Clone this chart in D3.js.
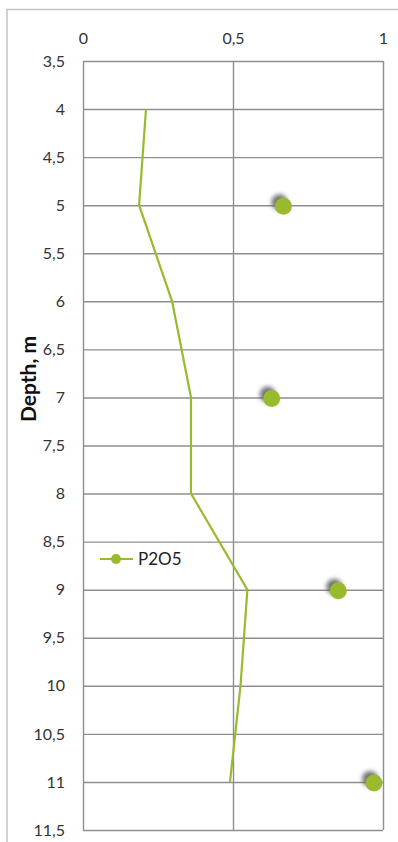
<!DOCTYPE html>
<html>
<head>
<meta charset="utf-8">
<script src="https://cdn.jsdelivr.net/npm/d3@7/dist/d3.min.js"></script>
<style>
  html, body { margin: 0; padding: 0; background: #fff; }
  svg { display: block; font-family: Lato, "Open Sans", sans-serif; }
</style>
</head>
<body>
<svg id="chart" width="398" height="842"></svg>
<script>
// P2O5 profile by depth
const depths = [4, 5, 6, 7, 8, 9, 10, 11];
const p2o5 = [0.21, 0.187, 0.297, 0.36, 0.36, 0.548, 0.525, 0.49];

// Separate sample points (no line)
const sampleDepths = [5, 7, 9, 11];
const sampleValues = [0.668, 0.629, 0.851, 0.97];

const xTicks = [0, 0.5, 1];
const yTicks = [3.5, 4, 4.5, 5, 5.5, 6, 6.5, 7, 7.5, 8, 8.5, 9, 9.5, 10, 10.5, 11, 11.5];
const seriesName = "P2O5";
const yTitle = "Depth, m";

const fmt = v => String(v).replace(".", ",");

const svg = d3.select("#chart");
const plotL = 83, plotR = 383, plotT = 61, plotB = 830;
const green = "#9aba2d";
const gridColor = "#8f8f8f";
const tickFont = 16;

const x = d3.scaleLinear().domain([0, 1]).range([plotL, plotR]);
const y = d3.scaleLinear().domain([3.5, 11.5]).range([plotT, plotB]);

// outer chart frame (top and left edges)
svg.append("path")
  .attr("d", `M7,842 V9.5 H398`)
  .attr("fill", "none").attr("stroke", "#c4c4c4").attr("stroke-width", 1.5);

const defs = svg.append("defs");
defs.append("filter").attr("id", "soft").attr("x", "-50%").attr("y", "-50%")
  .attr("width", "200%").attr("height", "200%")
  .append("feGaussianBlur").attr("stdDeviation", 2);

// gridlines
const g = svg.append("g");
g.append("g").attr("transform", `translate(${plotL},0)`)
  .call(d3.axisLeft(y).tickValues(yTicks).tickSize(-(plotR - plotL)).tickFormat(""))
  .call(a => a.select(".domain").remove())
  .call(a => a.selectAll("line").attr("stroke", gridColor).attr("stroke-width", 1.4));
g.append("g").attr("transform", `translate(0,${plotT})`)
  .call(d3.axisTop(x).tickValues(xTicks).tickSize(-(plotB - plotT)).tickFormat(""))
  .call(a => a.select(".domain").remove())
  .call(a => a.selectAll("line").attr("stroke", gridColor).attr("stroke-width", 1.4));

// y tick labels
svg.append("g").attr("transform", `translate(${plotL},0)`)
  .call(d3.axisLeft(y).tickValues(yTicks).tickSize(0).tickPadding(18).tickFormat(fmt))
  .call(a => a.select(".domain").remove())
  .call(a => a.selectAll("text").attr("font-size", tickFont).attr("fill", "#333")
    .attr("font-family", "Lato, 'Open Sans', sans-serif"));

// x tick labels on top
svg.append("g").attr("transform", `translate(0,${plotT})`)
  .call(d3.axisTop(x).tickValues(xTicks).tickSize(0).tickPadding(17).tickFormat(fmt))
  .call(a => a.select(".domain").remove())
  .call(a => a.selectAll("text").attr("font-size", tickFont).attr("fill", "#333")
    .attr("font-family", "Lato, 'Open Sans', sans-serif"));

// axis title
svg.append("text")
  .attr("transform", `translate(36,379) rotate(-90)`)
  .attr("text-anchor", "middle")
  .attr("font-size", 21).attr("font-weight", "bold").attr("fill", "#111")
  .text(yTitle);

// profile line
const line = d3.line().x(d => x(d[1])).y(d => y(d[0]));
svg.append("path")
  .datum(depths.map((d, i) => [d, p2o5[i]]))
  .attr("d", line)
  .attr("fill", "none").attr("stroke", green).attr("stroke-width", 2.2)
  .attr("stroke-linejoin", "miter");

// sample points with soft shadow
const pts = sampleDepths.map((d, i) => [d, sampleValues[i]]);
svg.append("g").selectAll("circle").data(pts).join("circle")
  .attr("cx", d => x(d[1]) - 4).attr("cy", d => y(d[0]) - 3).attr("r", 8)
  .attr("fill", "#5e5e5e").attr("opacity", 0.85).attr("filter", "url(#soft)");
svg.append("g").selectAll("circle").data(pts).join("circle")
  .attr("cx", d => x(d[1])).attr("cy", d => y(d[0]) + 1).attr("r", 8.5)
  .attr("fill", green);

// legend
const lg = svg.append("g").attr("transform", "translate(100,559)");
lg.append("line").attr("x1", 0).attr("x2", 33).attr("y1", 0).attr("y2", 0)
  .attr("stroke", green).attr("stroke-width", 2.2);
lg.append("circle").attr("cx", 16).attr("cy", 0).attr("r", 5).attr("fill", green);
lg.append("text").attr("x", 38).attr("y", 0).attr("dy", "0.35em")
  .attr("font-size", 17).attr("fill", "#222").text(seriesName);
</script>
</body>
</html>
